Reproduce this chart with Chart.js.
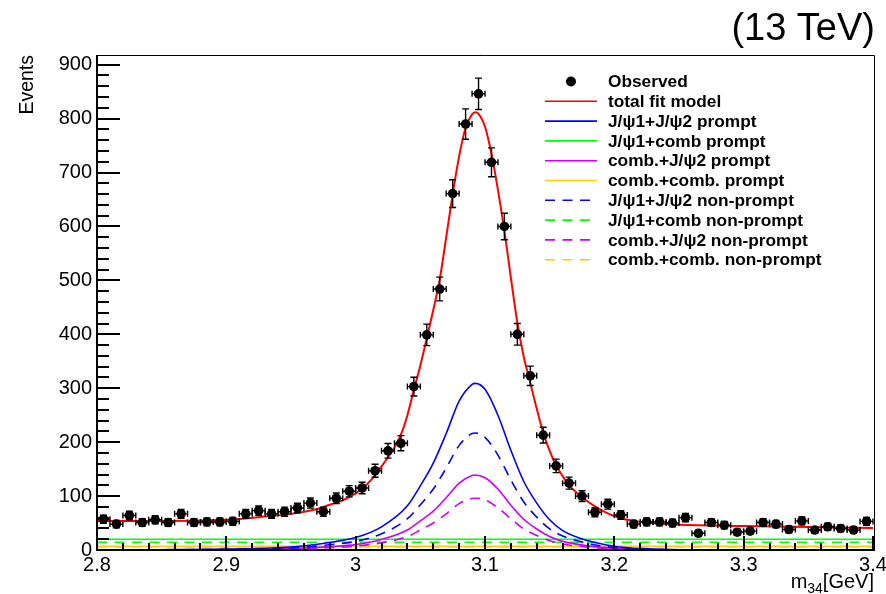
<!DOCTYPE html>
<html><head><meta charset="utf-8">
<script src="https://cdn.jsdelivr.net/npm/chart.js@4.4.1/dist/chart.umd.min.js"></script>
<style>html,body{margin:0;padding:0;background:#fff}#wrap{width:886px;height:594px;position:relative}</style>
</head><body><div id="wrap"><canvas id="c" width="886" height="594"></canvas></div>
<script>
// ---- data ----
const binCenters = [2.805,2.815,2.825,2.835,2.845,2.855,2.865,2.875,2.885,2.895,
  2.905,2.915,2.925,2.935,2.945,2.955,2.965,2.975,2.985,2.995,
  3.005,3.015,3.025,3.035,3.045,3.055,3.065,3.075,3.085,3.095,
  3.105,3.115,3.125,3.135,3.145,3.155,3.165,3.175,3.185,3.195,
  3.205,3.215,3.225,3.235,3.245,3.255,3.265,3.275,3.285,3.295,
  3.305,3.315,3.325,3.335,3.345,3.355,3.365,3.375,3.385,3.395];
const observed = [57,48,64,51,56,51,67,51,52,52,
  53,67,73,67,71,78,87,71,96,109,
  115,147,184,198,303,399,484,661,790,846,
  719,600,400,323,213,156,124,100,70,85,
  65,48,52,52,50,60,31,51,46,33,
  35,51,48,38,54,37,43,40,37,53];
const binHalfWidth = 0.005;

const totalX = [2.80,2.85,2.90,2.93,2.95,2.97,2.98,2.99,3.00,3.005,3.01,3.015,3.02,3.025,3.03,3.035,3.04,3.045,3.05,3.055,3.06,3.065,3.07,3.075,3.08,3.085,3.09,3.0925,3.095,3.10,3.105,3.11,3.115,3.12,3.125,3.13,3.135,3.14,3.145,3.15,3.155,3.16,3.165,3.17,3.175,3.18,3.185,3.19,3.195,3.20,3.205,3.215,3.225,3.25,3.30,3.35,3.40];
const totalFit = [54,54,56,62,67,76,84,92,105,114,125,139,155,172,190,214,250,297,342,393,445,502,580,660,730,783,808,812,809,785,735,668,592,505,422,358,310,262,218,184,157,137,120,108,98,89,81,74,68,63,59,54,51,47,44.5,42.7,41];

const compX = [2.80,2.85,2.90,2.95,2.98,3.00,3.02,3.04,3.05,3.06,3.07,3.08,3.09,3.0925,3.10,3.11,3.12,3.13,3.14,3.15,3.16,3.18,3.20,3.22,3.25,3.30,3.40];
const psiPsiPrompt    = [0.3,0.6,1.9,5.6,14,23,43,82,119,161,216,276,307,309,298,250,185,127,87,56,36,17,7,2.5,0.6,0,0];
const psiPsiNonPrompt = [0.2,0.4,1.3,3.9,9.8,16,30,58,84,113,152,194,216,217,209,176,130,89,61,39,26,12,4.8,1.7,0.4,0,0];
const combPsiPrompt   = [0.1,0.3,0.8,2.5,6.3,10,19.5,37,54,72,97,124,138,139,134,113,83,57,39,25,16,7.6,3.1,1.1,0.3,0,0];
const combPsiNonPrompt= [0.1,0.2,0.6,1.7,4.3,7.2,13.4,25,37,50,67,86,95.5,96,93,78,58,39,27,17,11,5.3,2.1,0.8,0.2,0,0];

const flatX = [2.8,3.4];
const psiCombPrompt     = [20,20];
const psiCombNonPrompt  = [14.5,14.5];
const combCombPrompt    = [7,7];
const combCombNonPrompt = [5.5,5.5];

const xTickValues = [2.8,2.9,3.0,3.1,3.2,3.3,3.4];
const yTickValues = [0,100,200,300,400,500,600,700,800,900];

const C_RED='#ff0000', C_BLUE='#0000ff', C_GREEN='#00ff00', C_MAG='#cc00ff', C_ORA='#ffcc00';
const DASH=[10,7.5];
const legendItems = [
  {label:'Observed', type:'marker'},
  {label:'total fit model', color:C_RED, dash:[]},
  {label:'J/\u03c81+J/\u03c82 prompt', color:C_BLUE, dash:[]},
  {label:'J/\u03c81+comb prompt', color:C_GREEN, dash:[]},
  {label:'comb.+J/\u03c82 prompt', color:C_MAG, dash:[]},
  {label:'comb.+comb. prompt', color:C_ORA, dash:[]},
  {label:'J/\u03c81+J/\u03c82 non-prompt', color:C_BLUE, dash:DASH},
  {label:'J/\u03c81+comb non-prompt', color:C_GREEN, dash:DASH},
  {label:'comb.+J/\u03c82 non-prompt', color:C_MAG, dash:DASH},
  {label:'comb.+comb. non-prompt', color:C_ORA, dash:DASH}
];

// ---- build datasets ----
const pts = (xs, ys) => xs.map((x,i)=>({x:x, y:ys[i]}));
function lineDS(label, xs, ys, color, dash, width, order){
  return {type:'line', label, data: pts(xs,ys), borderColor: color, borderWidth: width,
    borderDash: dash, pointRadius: 0, pointHoverRadius: 0, fill: false,
    cubicInterpolationMode: 'monotone', order: order, clip: 0};
}
const datasets = [
  lineDS('comb.+comb. non-prompt', flatX, combCombNonPrompt, C_ORA, DASH, 1.6, 10),
  lineDS('comb.+comb. prompt', flatX, combCombPrompt, C_ORA, [], 1.6, 9),
  lineDS('J/psi1+comb non-prompt', flatX, psiCombNonPrompt, C_GREEN, DASH, 1.6, 8),
  lineDS('J/psi1+comb prompt', flatX, psiCombPrompt, C_GREEN, [], 1.6, 7),
  lineDS('comb.+J/psi2 non-prompt', compX, combPsiNonPrompt, C_MAG, DASH, 1.6, 6),
  lineDS('comb.+J/psi2 prompt', compX, combPsiPrompt, C_MAG, [], 1.6, 5),
  lineDS('J/psi1+J/psi2 non-prompt', compX, psiPsiNonPrompt, C_BLUE, DASH, 1.6, 4),
  lineDS('J/psi1+J/psi2 prompt', compX, psiPsiPrompt, C_BLUE, [], 1.6, 3),
  lineDS('total fit model', totalX, totalFit, C_RED, [], 2, 2),
  {type:'scatter', label:'Observed', data: pts(binCenters, observed), backgroundColor:'#000',
    borderColor:'#000', pointRadius:4.8, pointHoverRadius:4.8, pointBorderWidth:0, showLine:false, order:0}
];

const FONT = '"Liberation Sans", Arial, Helvetica, sans-serif';

const decor = {
  id:'decor',
  beforeDatasetDraw(chart, args){
    if (chart.data.datasets[args.index].label !== 'Observed') return;
    const ctx = chart.ctx, xs = chart.scales.x, ys = chart.scales.y;
    ctx.save();
    ctx.strokeStyle = '#000'; ctx.lineWidth = 1.4;
    binCenters.forEach((x,i)=>{
      const v = observed[i], e = Math.sqrt(v);
      const px = xs.getPixelForValue(x), py = ys.getPixelForValue(v);
      const t = ys.getPixelForValue(v+e), b = ys.getPixelForValue(v-e);
      const l = xs.getPixelForValue(x-binHalfWidth), r = xs.getPixelForValue(x+binHalfWidth);
      ctx.beginPath();
      ctx.moveTo(px,t); ctx.lineTo(px,b);
      ctx.moveTo(px-3.5,t); ctx.lineTo(px+3.5,t);
      ctx.moveTo(px-3.5,b); ctx.lineTo(px+3.5,b);
      ctx.moveTo(l,py); ctx.lineTo(r,py);
      ctx.moveTo(l,py-3); ctx.lineTo(l,py+3);
      ctx.moveTo(r,py-3); ctx.lineTo(r,py+3);
      ctx.stroke();
    });
    ctx.restore();
  },
  afterDraw(chart){
    const ctx = chart.ctx, xs = chart.scales.x, ys = chart.scales.y, a = chart.chartArea;
    ctx.save();
    // frame
    ctx.strokeStyle = '#000';
    ctx.lineWidth = 1;
    ctx.beginPath();
    ctx.moveTo(a.left, a.top+0.5); ctx.lineTo(a.right+1.5, a.top+0.5); ctx.lineTo(a.right+1.5, a.bottom);
    ctx.stroke();
    ctx.lineWidth = 2;
    ctx.beginPath();
    ctx.moveTo(a.left, a.top); ctx.lineTo(a.left, a.bottom); ctx.lineTo(a.right+2, a.bottom);
    ctx.stroke();
    // y ticks (inward)
    ctx.lineWidth = 2;
    ctx.beginPath();
    for (let v = 0; v <= ys.max; v += 20){
      const py = Math.round(ys.getPixelForValue(v));
      const major = (v % 100) === 0;
      ctx.moveTo(a.left, py); ctx.lineTo(a.left + (major ? 23 : 12), py);
    }
    ctx.stroke();
    // x ticks
    ctx.beginPath();
    for (let k = 0; k <= 30; k++){
      const v = 2.8 + k*0.02;
      const px = Math.round(xs.getPixelForValue(v));
      const major = (k % 5) === 0;
      ctx.moveTo(px, a.bottom); ctx.lineTo(px, a.bottom - (major ? 14 : 7));
    }
    ctx.stroke();
    // texts
    ctx.fillStyle = '#000';
    ctx.font = '38px ' + FONT;
    ctx.textAlign = 'right'; ctx.textBaseline = 'alphabetic';
    ctx.fillText('(13 TeV)', 875, 40);
    // y title
    ctx.save();
    ctx.translate(33, 55);
    ctx.rotate(-Math.PI/2);
    ctx.font = '19.5px ' + FONT;
    ctx.textAlign = 'right'; ctx.textBaseline = 'alphabetic';
    ctx.fillText('Events', 0, 0);
    ctx.restore();
    // x title: m_34[GeV]
    ctx.font = '20px ' + FONT;
    ctx.textAlign = 'left';
    const w1 = ctx.measureText('m').width;
    ctx.font = '14px ' + FONT;
    const w2 = ctx.measureText('34').width;
    ctx.font = '20px ' + FONT;
    const w3 = ctx.measureText('[GeV]').width;
    let x0 = 874 - (w1 + w2 + w3);
    ctx.fillText('m', x0, 588);
    ctx.font = '14px ' + FONT;
    ctx.fillText('34', x0 + w1, 593);
    ctx.font = '20px ' + FONT;
    ctx.fillText('[GeV]', x0 + w1 + w2, 588);
    // legend
    const y0 = 81.5, dy = 19.8;
    ctx.font = 'bold 17.3px ' + FONT;
    ctx.textBaseline = 'middle';
    legendItems.forEach((it, i)=>{
      const y = y0 + i*dy;
      if (it.type === 'marker'){
        ctx.fillStyle = '#000';
        ctx.beginPath(); ctx.arc(571, y, 5, 0, Math.PI*2); ctx.fill();
      } else {
        ctx.strokeStyle = it.color; ctx.lineWidth = 1.6; ctx.setLineDash(it.dash);
        ctx.beginPath(); ctx.moveTo(545, y); ctx.lineTo(597, y); ctx.stroke();
        ctx.setLineDash([]);
      }
      ctx.fillStyle = '#000';
      ctx.textAlign = 'left';
      ctx.fillText(it.label, 608, y + 1);
    });
    ctx.restore();
  }
};

new Chart(document.getElementById('c'), {
  type: 'scatter',
  data: { datasets },
  options: {
    responsive: false, animation: false, devicePixelRatio: 1,
    layout: { padding: { left: 0, right: 13, top: 55, bottom: 0 } },
    plugins: { legend: { display: false }, tooltip: { enabled: false } },
    events: [],
    scales: {
      x: {
        type: 'linear', min: 2.8, max: 3.4,
        grid: { display: false, drawTicks: false }, border: { display: false },
        afterBuildTicks: (s) => { s.ticks = xTickValues.map(v => ({value: v})); },
        ticks: { font: { size: 20, family: FONT }, color: '#000', padding: 3, maxRotation: 0, autoSkip: false,
          callback: (v) => String(Number(v.toFixed(1))) },
        afterFit: (s) => { s.height = 44; s.paddingLeft = 0; s.paddingRight = 0; }
      },
      y: {
        type: 'linear', min: 0, max: 918,
        grid: { display: false, drawTicks: false }, border: { display: false },
        afterBuildTicks: (s) => { s.ticks = yTickValues.map(v => ({value: v})); },
        ticks: { font: { size: 20, family: FONT }, color: '#000', padding: 5, autoSkip: false },
        afterFit: (s) => { s.width = 97; s.paddingTop = 0; s.paddingBottom = 0; }
      }
    }
  },
  plugins: [decor]
});
</script>
</body></html>
